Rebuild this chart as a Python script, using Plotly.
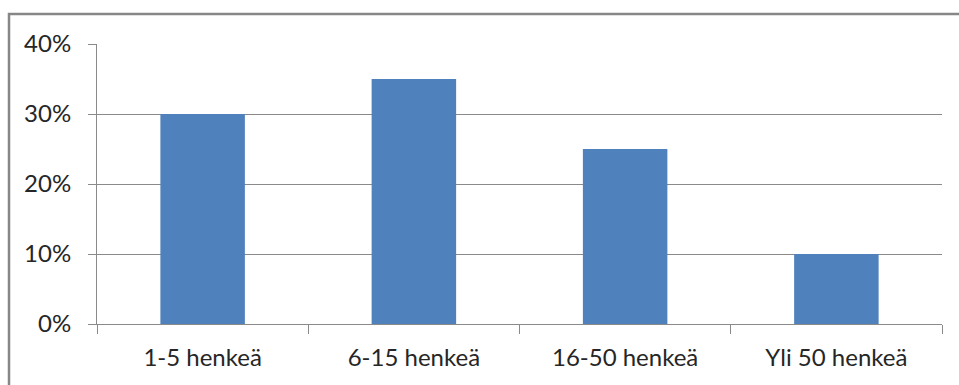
import plotly.graph_objects as go

categories = ["1-5 henkeä", "6-15 henkeä", "16-50 henkeä", "Yli 50 henkeä"]
shares = [0.30, 0.35, 0.25, 0.10]
y_ticks = [0.0, 0.1, 0.2, 0.3, 0.4]

grid_col = "#8a8a8a"
font = dict(family="Lato", size=24, color="#262626")

fig = go.Figure(
    go.Bar(
        x=categories,
        y=shares,
        marker=dict(color="#4F81BD", line=dict(width=0)),
        hoverinfo="x+y",
    )
)

fig.update_layout(
    width=959,
    height=385,
    margin=dict(l=97, r=17, t=44, b=61),
    paper_bgcolor="white",
    plot_bgcolor="white",
    bargap=0.6,
    showlegend=False,
    font=font,
    shapes=[
        # outer chart frame
        dict(
            type="rect",
            xref="paper",
            yref="paper",
            x0=(9 - 97) / 845,
            x1=1.2,
            y0=-0.5,
            y1=(324 - 14) / 280,
            line=dict(color="#878787", width=2.5),
            fillcolor="rgba(0,0,0,0)",
            layer="below",
        )
    ],
)

fig.update_xaxes(
    type="category",
    showline=True,
    linecolor=grid_col,
    linewidth=1,
    ticks="outside",
    tickson="boundaries",
    ticklen=9,
    tickcolor=grid_col,
    showgrid=False,
    ticklabelstandoff=12,
    tickfont=font,
)

fig.update_yaxes(
    range=[0, 0.4],
    tickvals=y_ticks,
    tickformat=".0%",
    showline=True,
    linecolor=grid_col,
    linewidth=1,
    ticks="outside",
    ticklen=8,
    tickcolor=grid_col,
    showgrid=True,
    gridcolor=grid_col,
    gridwidth=1,
    zeroline=False,
    ticklabelstandoff=12,
    tickfont=font,
)

fig.write_html("out.html")
